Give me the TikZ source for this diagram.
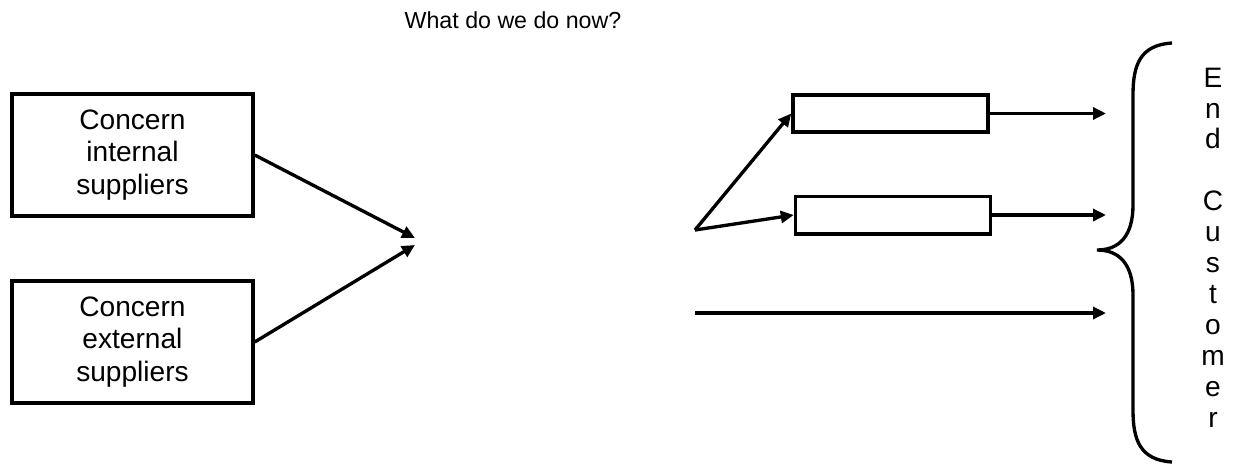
\documentclass[tikz,border=0pt]{standalone}
\usepackage{fontspec}
\setmainfont{Liberation Sans}
\usepackage{tikz}
\usetikzlibrary{arrows.meta}
\definecolor{inkblack}{RGB}{0, 0, 0}

\begin{document}
\begin{tikzpicture}[x=0.02cm, y=-0.02cm,
    every node/.style={font=\fontsize{16pt}{18.4pt}\selectfont, text=inkblack},
    supplierbox/.style={draw=inkblack, line width=2pt, minimum width=4.82cm, minimum height=2.44cm, align=center, inner sep=0pt},
    stagebox/.style={draw=inkblack, line width=2pt, minimum width=3.9cm, minimum height=0.75cm, inner sep=0pt},
    flow/.style={draw=inkblack, line width=1.9pt, -{Triangle[length=2.6mm, width=2.4mm]}}]
    \useasboundingbox (0,0) rectangle (1238,464);

    % Title
    \node[font=\fontsize{13.2pt}{15pt}\selectfont] (title) at (513,20) {What do we do now?};

    % Supplier boxes
    \node[supplierbox] (internal) at (132.5,155) {Concern\\internal\\suppliers};
    \node[supplierbox] (external) at (132.5,342) {Concern\\external\\suppliers};
    \coordinate (meetA) at (415,238);
    \coordinate (meetB) at (415,245);
    \draw[flow] (internal.east) -- (meetA);
    \draw[flow] (external.east) -- (meetB);

    % Outgoing streams
    \coordinate (fork) at (695,230);
    \node[stagebox] (stageA) at (890.5,113.5) {};
    \node[stagebox] (stageB) at (893,215) {};
    \draw[flow] (fork) -- (stageA.west);
    \draw[flow] (fork) -- (stageB.west);
    \coordinate (endA) at (1106,113.5);
    \coordinate (endB) at (1106,215);
    \draw[flow] (stageA.east) -- (endA);
    \draw[flow] (stageB.east) -- (endB);
    \coordinate (startC) at (695,313);
    \coordinate (endC) at (1106,313);
    \draw[flow] (startC) -- (endC);

    % Brace and end customer
    \draw[inkblack, line width=1.9pt] (1172,43) .. controls (1140,45) and (1133,65) .. (1133,95)
        -- (1133,205) .. controls (1133,235) and (1120,250) .. (1097,250)
        .. controls (1120,250) and (1133,265) .. (1133,295)
        -- (1133,410) .. controls (1133,440) and (1140,460) .. (1172,462);
    \node[align=center, font=\fontsize{16pt}{17.6pt}\selectfont] (customer) at (1213,247.5)
        {E\\n\\d\\\mbox{}\\C\\u\\s\\t\\o\\m\\e\\r};
\end{tikzpicture}
\end{document}
